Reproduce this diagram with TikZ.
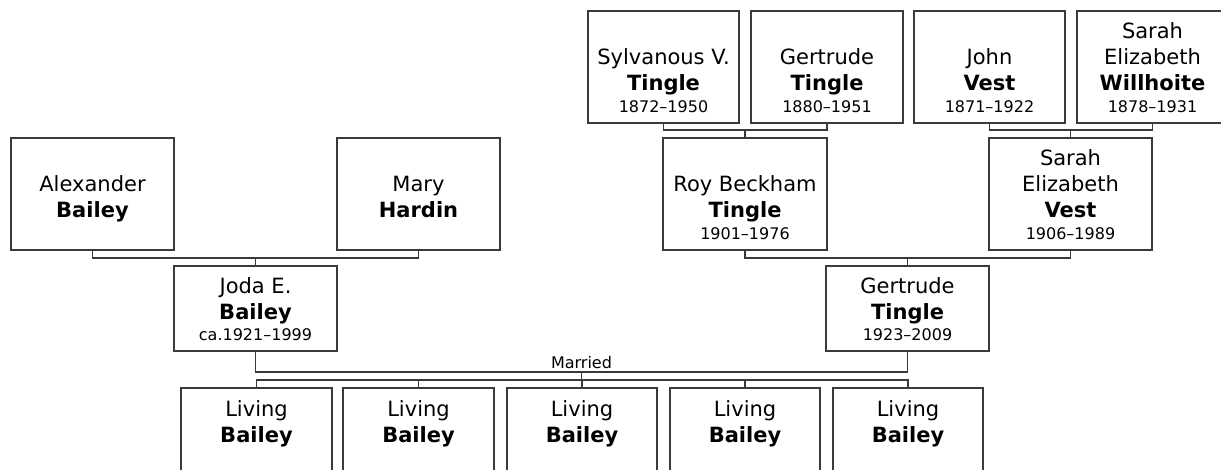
\documentclass[tikz,border=0pt]{standalone}
\usepackage{fontspec}
\setmainfont{DejaVu Sans}
\usetikzlibrary{calc}
\definecolor{ln}{HTML}{3A3A3A}
\newcommand\Ln[2]{\hbox to\pw{\hss\smash{\fontsize{#1}{#1}\selectfont #2}\hss}}
\newcommand\Nm[1]{\Ln{21}{#1}}
\newcommand\Sn[1]{\Ln{21}{\bfseries #1}}
\newcommand\Dt[1]{\vskip-4pt\Ln{16}{#1}}
\newcommand\Pb[3]{\vbox to #2pt{\def\pw{#1pt}\baselineskip=26pt\lineskiplimit=-100pt\lineskip=0pt\vfill #3\vskip10pt}}
\newcommand\Pt[3]{\vbox to #2pt{\def\pw{#1pt}\baselineskip=26pt\lineskiplimit=-100pt\lineskip=0pt\vskip28pt #3\vfill}}
\begin{document}
\begin{tikzpicture}[x=1pt,y=-1pt,
  pbox/.style={draw=ln, line width=1.3pt, inner sep=0pt, outer sep=0pt, anchor=north west, fill=white},
  conn/.style={draw=ln, line width=1.3pt},
  lbl/.style={font=\fontsize{16}{16}\selectfont, inner sep=0pt, anchor=base}]
\useasboundingbox (0,0) rectangle (1221,470);
\clip (0,0) rectangle (1221,470);
% persons
\node[pbox] (alex) at (11,138) {\Pb{163}{112}{\Nm{Alexander}\Sn{Bailey}\Dt{}}};
\node[pbox] (mary) at (337,138) {\Pb{163}{112}{\Nm{Mary}\Sn{Hardin}\Dt{}}};
\node[pbox] (joda) at (174,266) {\Pb{163}{85}{\Nm{Joda E.}\Sn{Bailey}\Dt{ca.1921–1999}}};
\node[pbox] (gtin) at (826,266) {\Pb{163}{85}{\Nm{Gertrude}\Sn{Tingle}\Dt{1923–2009}}};
\node[pbox] (sylv) at (588,11) {\Pb{151}{112}{\Nm{Sylvanous V.}\Sn{Tingle}\Dt{1872–1950}}};
\node[pbox] (gert) at (751,11) {\Pb{152}{112}{\Nm{Gertrude}\Sn{Tingle}\Dt{1880–1951}}};
\node[pbox] (john) at (914,11) {\Pb{151}{112}{\Nm{John}\Sn{Vest}\Dt{1871–1922}}};
\node[pbox] (will) at (1077,11) {\Pb{151}{112}{\Nm{Sarah}\Nm{Elizabeth}\Sn{Willhoite}\Dt{1878–1931}}};
\node[pbox] (roy) at (663,138) {\Pb{164}{112}{\Nm{Roy Beckham}\Sn{Tingle}\Dt{1901–1976}}};
\node[pbox] (sev) at (989,138) {\Pb{163}{112}{\Nm{Sarah}\Nm{Elizabeth}\Sn{Vest}\Dt{1906–1989}}};
% children
\node[pbox] (c1) at (181,388) {\Pt{151}{112}{\Nm{Living}\Sn{Bailey}}};
\node[pbox] (c2) at (343,388) {\Pt{151}{112}{\Nm{Living}\Sn{Bailey}}};
\node[pbox] (c3) at (507,388) {\Pt{150}{112}{\Nm{Living}\Sn{Bailey}}};
\node[pbox] (c4) at (670,388) {\Pt{150}{112}{\Nm{Living}\Sn{Bailey}}};
\node[pbox] (c5) at (833,388) {\Pt{150}{112}{\Nm{Living}\Sn{Bailey}}};
% parent connectors
\draw[conn] (alex.south) -- ++(0,8) -| (mary.south);
\draw[conn] (joda.north) -- ++(0,-8);
\draw[conn] (sylv.south) -- ++(0,7) -| (gert.south);
\draw[conn] (roy.north) -- ++(0,-8);
\draw[conn] (john.south) -- ++(0,7) -| (will.south);
\draw[conn] (sev.north) -- ++(0,-8);
\draw[conn] (roy.south) -- ++(0,8) -| (sev.south);
\draw[conn] (gtin.north) -- ++(0,-8);
% marriage
\draw[conn] (joda.south) -- ++(0,21) coordinate (mj) -| (gtin.south);
\coordinate (mm) at ($(mj)!0.5!(gtin.south |- mj)$);
\node[lbl] (married) at ($(mm)+(0,-4)$) {Married};
\draw[conn] (mm) -- ++(0,8);
\draw[conn] (c1.north) -- ++(0,-8) -| (c5.north);
\draw[conn] (c2.north) -- ++(0,-8);
\draw[conn] (c3.north) -- ++(0,-8);
\draw[conn] (c4.north) -- ++(0,-8);
\end{tikzpicture}
\end{document}
